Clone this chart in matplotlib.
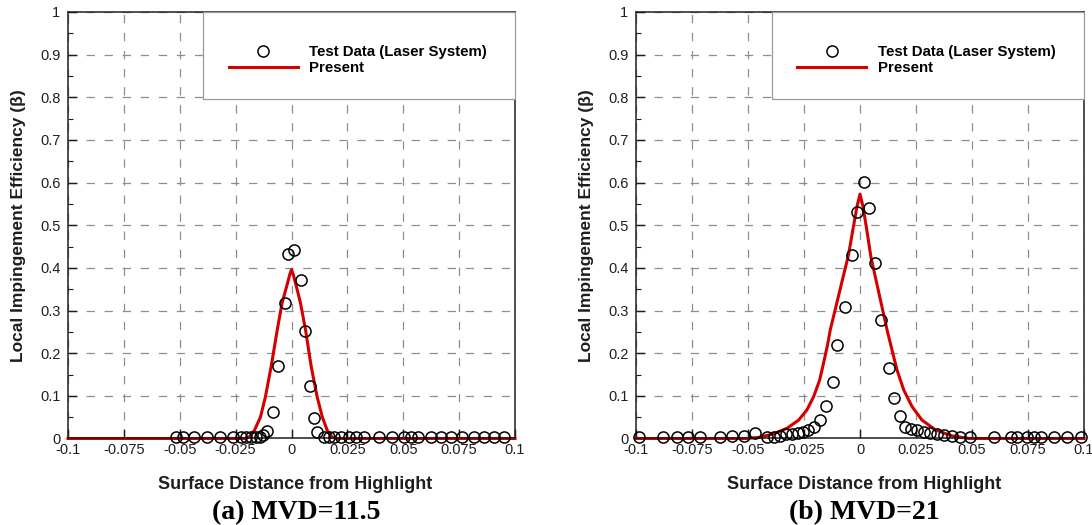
import matplotlib
matplotlib.use("Agg")
import matplotlib.pyplot as plt
from matplotlib.patches import Rectangle
from matplotlib.ticker import MultipleLocator
from matplotlib.font_manager import FontProperties

plt.rcParams['lines.scale_dashes'] = False
plt.rcParams['font.family'] = ['Liberation Sans', 'DejaVu Sans']

# ---- (a) MVD = 11.5 ----
a_test_x = [-0.0516, -0.0486, -0.0435, -0.0378, -0.0321, -0.0262, -0.0224, -0.0203,
            -0.0182, -0.0161, -0.0143, -0.0128, -0.0109, -0.0082, -0.0061, -0.0031,
            -0.0017, 0.0010, 0.0043, 0.0061, 0.0082, 0.0100, 0.0116, 0.0145, 0.0168,
            0.0190, 0.0220, 0.0257, 0.0287, 0.0324, 0.0392, 0.0451, 0.0504, 0.0534,
            0.0564, 0.0623, 0.0668, 0.0713, 0.0765, 0.0818, 0.0862, 0.0907, 0.0952]
a_test_y = [0.003, 0.003, 0.003, 0.003, 0.003, 0.003, 0.003, 0.003,
            0.003, 0.003, 0.004, 0.008, 0.018, 0.061, 0.169, 0.318,
            0.432, 0.443, 0.371, 0.252, 0.124, 0.047, 0.015, 0.004, 0.003,
            0.003, 0.003, 0.003, 0.003, 0.003, 0.003, 0.003, 0.003, 0.003,
            0.003, 0.003, 0.003, 0.003, 0.003, 0.003, 0.003, 0.003, 0.003]
a_pred_x = [-0.100, -0.021, -0.0190, -0.0166, -0.0139, -0.0117, -0.0091, -0.0064,
            -0.0042, -0.0020, -0.0008, 0.0, 0.0008, 0.0020, 0.0040, 0.0063, 0.0088,
            0.0115, 0.0138, 0.0160, 0.0182, 0.0200, 0.100]
a_pred_y = [0.0, 0.0, 0.003, 0.019, 0.050, 0.097, 0.169, 0.254,
            0.318, 0.360, 0.384, 0.396, 0.384, 0.360, 0.318, 0.254, 0.169,
            0.097, 0.050, 0.019, 0.003, 0.0, 0.0]

# ---- (b) MVD = 21 ----
b_test_x = [-0.0985, -0.0881, -0.0818, -0.0766, -0.0714, -0.0625, -0.0572, -0.0520,
            -0.0468, -0.0416, -0.0386, -0.0356, -0.0330, -0.0304, -0.0279, -0.0255,
            -0.0230, -0.0204, -0.0177, -0.0151, -0.0121, -0.0103, -0.0067, -0.0037,
            -0.0013, 0.0016, 0.0042, 0.0065, 0.0094, 0.0128, 0.0153, 0.0177, 0.0202,
            0.0229, 0.0255, 0.0284, 0.0314, 0.0344, 0.0374, 0.0411, 0.0448, 0.0493,
            0.0597, 0.0672, 0.0702, 0.0747, 0.0776, 0.0806, 0.0865, 0.0925, 0.0985]
b_test_y = [0.004, 0.004, 0.004, 0.004, 0.004, 0.004, 0.006, 0.006,
            0.012, 0.004, 0.004, 0.006, 0.011, 0.011, 0.012, 0.016,
            0.020, 0.028, 0.043, 0.075, 0.133, 0.219, 0.308, 0.431,
            0.530, 0.601, 0.541, 0.412, 0.277, 0.165, 0.094, 0.053, 0.028,
            0.022, 0.020, 0.016, 0.012, 0.011, 0.008, 0.006, 0.004, 0.003,
            0.003, 0.003, 0.003, 0.003, 0.003, 0.003, 0.003, 0.003, 0.003]
b_pred_x = [-0.100, -0.0505, -0.0446, -0.0386, -0.0326, -0.0274, -0.0237, -0.0207,
            -0.0180, -0.0163, -0.0145, -0.0133, -0.0108, -0.0078, -0.0051, -0.0030,
            -0.0013, 0.0, 0.0013, 0.0030, 0.0049, 0.0075, 0.0100, 0.0121, 0.0143,
            0.0165, 0.0195, 0.0232, 0.0277, 0.0337, 0.0411, 0.0485, 0.100]
b_pred_y = [0.0, 0.0, 0.003, 0.011, 0.024, 0.043, 0.067, 0.098,
            0.137, 0.176, 0.219, 0.254, 0.308, 0.373, 0.431, 0.495,
            0.545, 0.573, 0.545, 0.490, 0.425, 0.363, 0.304, 0.254, 0.207,
            0.161, 0.114, 0.075, 0.043, 0.020, 0.006, 0.0, 0.0]

x_ticks = [-0.1, -0.075, -0.05, -0.025, 0.0, 0.025, 0.05, 0.075, 0.1]
x_tick_labels = ["-0.1", "-0.075", "-0.05", "-0.025", "0", "0.025", "0.05", "0.075", "0.1"]
y_ticks = [0.0, 0.1, 0.2, 0.3, 0.4, 0.5, 0.6, 0.7, 0.8, 0.9, 1.0]
y_tick_labels = ["0", "0.1", "0.2", "0.3", "0.4", "0.5", "0.6", "0.7", "0.8", "0.9", "1"]

series_names = ["Test Data (Laser System)", "Present"]
x_title = "Surface Distance from Highlight"
y_title = "Local Impingement Efficiency (\u03b2)"
captions = ["(a) MVD=11.5", "(b) MVD=21"]

INK = "#1e1e1e"
RED = "#d40000"
GRID = "#8e8e8e"


def draw_panel(ax, tx, ty, px, py, caption):
    ax.set_xlim(-0.1, 0.1)
    ax.set_ylim(0.0, 1.0)
    ax.set_xticks(x_ticks)
    ax.set_xticklabels(x_tick_labels)
    ax.set_yticks(y_ticks)
    ax.set_yticklabels(y_tick_labels)
    ax.yaxis.set_minor_locator(MultipleLocator(0.05))

    ax.grid(True, which="major", color=GRID, lw=0.9, linestyle=(0, (6, 7)))
    ax.set_axisbelow(True)
    for sp in ax.spines.values():
        sp.set_color(INK)
        sp.set_linewidth(1.1)

    ax.tick_params(axis="both", which="major", direction="in", length=6.5,
                   width=1.0, color=INK, labelsize=10.5, labelcolor=INK)
    ax.tick_params(axis="x", pad=3)
    ax.tick_params(axis="y", pad=5.5)
    ax.tick_params(axis="y", which="minor", direction="in", length=3.5,
                   width=0.8, color=INK)

    pts, = ax.plot(tx, ty, linestyle="none", marker="o", ms=8, mfc="none",
                   mec="black", mew=1.1, clip_on=False, zorder=4,
                   label=series_names[0])
    line, = ax.plot(px, py, color=RED, lw=2.2, clip_on=False, zorder=2.3,
                    label=series_names[1])

    # legend panel covering the upper right of the plot area
    box = Rectangle((-0.0395, 0.797), 0.1395, 0.203, facecolor="white",
                    edgecolor="#9a9a9a", lw=0.9, zorder=3, clip_on=False)
    ax.add_patch(box)
    leg = ax.legend(handles=[pts, line], loc="center left",
                    bbox_to_anchor=(0.360, 0.887), frameon=False,
                    handlelength=4.6, handletextpad=0.75, borderpad=0,
                    borderaxespad=0, labelspacing=0.1, numpoints=1,
                    prop=FontProperties(family="Liberation Sans", weight="bold", size=10.8))
    leg.set_zorder(5)

    ax.set_xlabel(x_title, fontsize=13, fontweight="bold", color=INK)
    ax.xaxis.set_label_coords(0.509, -0.087)
    ax.set_ylabel(y_title, fontsize=12.5, fontweight="bold", color=INK)
    ax.yaxis.set_label_coords(-0.093, 0.5)

    ax.text(0.51, -0.174, caption, transform=ax.transAxes, ha="center",
            va="center", fontsize=20, fontweight="bold",
            family=["Liberation Serif", "DejaVu Serif"], color="black")


fig = plt.figure(figsize=(10.92, 5.25), dpi=100)
ax_a = fig.add_axes([0.0623, 0.1648, 0.4093, 0.8124])
ax_b = fig.add_axes([0.5824, 0.1648, 0.4103, 0.8124])

draw_panel(ax_a, a_test_x, a_test_y, a_pred_x, a_pred_y, captions[0])
draw_panel(ax_b, b_test_x, b_test_y, b_pred_x, b_pred_y, captions[1])

fig.savefig("out.png", dpi=100)
